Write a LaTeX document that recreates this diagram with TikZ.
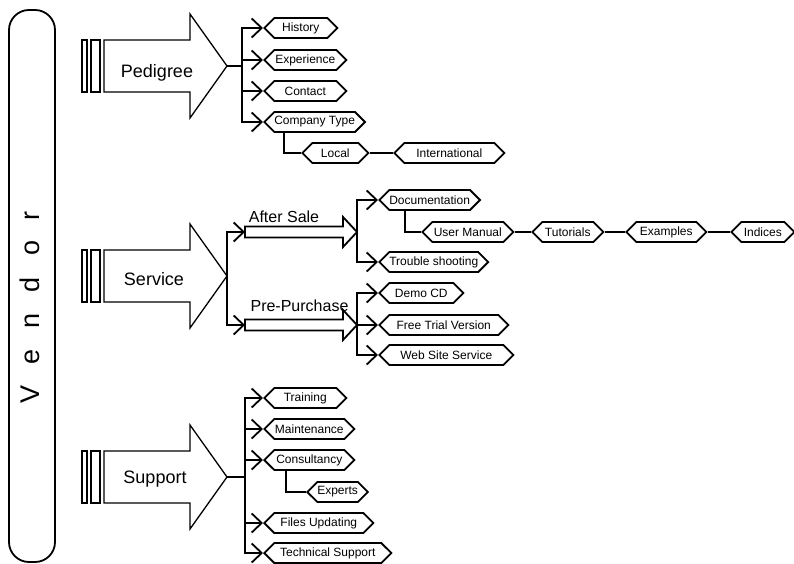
\documentclass[tikz,border=0pt]{standalone}
\usepackage{fontspec}
\setmainfont{Liberation Sans}
\usetikzlibrary{arrows.meta, shapes.symbols}

\begin{document}
\begin{tikzpicture}[x=1pt, y=-1pt,
    link/.style={line width=1.8pt},
    arr/.style={link, -{Straight Barb[length=10pt, width=19pt]}},
    hex/.style={draw, line width=1.8pt, shape=signal, signal to=east and west,
      signal pointer angle=90, minimum height=20pt, inner xsep=0pt, inner ysep=0pt,
      anchor=west, font=\fontsize{12}{12}\selectfont}]
    \useasboundingbox (0,0) rectangle (794,564);

    % vendor column
    \draw[line width=1.8pt, rounded corners=20pt] (9,10) rectangle (55,562);
    \node[rotate=90, font=\fontsize{27}{27}\selectfont] (vendor) at (30,307) {\spaceskip=21pt V e n d o r};

    % the three big arrows
    \foreach \nm/\c/\txt/\bx/\by in {ped/66/Pedigree/157/78, srv/276/Service/154/285, sup/477/Support/155/483} {
      \draw[line width=1.2pt] (82,\c-26) rectangle (87,\c+26) (91,\c-26) rectangle (100,\c+26);
      \draw[line width=1.3pt] (104,\c-26) -- (190,\c-26) -- (190,\c-52) -- (227,\c)
        -- (190,\c+52) -- (190,\c+26) -- (104,\c+26) -- cycle;
      \coordinate (\nm-tip) at (227,\c);
      \node[anchor=base, font=\fontsize{18}{18}\selectfont] (\nm) at (\bx,\by) {\txt};
    }

    % Pedigree
    \coordinate (ped-fork) at (242,66);
    \node[hex, minimum width=73pt] (hist) at (263,28) {History};
    \node[hex, minimum width=82pt] (expr) at (263,60) {Experience};
    \node[hex, minimum width=82pt] (cont) at (263,91) {Contact};
    \node[hex, minimum width=100pt] (ctype) at (263,122) {Company Type};
    \node[hex, minimum width=66pt] (local) at (301,153) {Local};
    \node[hex, minimum width=110pt] (intl) at (393,153) {International};
    \draw[link] (ped-tip) -- (ped-fork);
    \foreach \ch in {hist, expr, cont, ctype}
      \draw[arr] (ped-fork) |- (\ch.west);
    \draw[link] ([xshift=-31pt]ctype.south) |- (local.west);
    \draw[link] (local.east) -- (intl.west);

    % Service
    \foreach \nm/\c in {as/232, pp/325} {
      \draw[line width=1.8pt] (245,\c-5.5) -- (343,\c-5.5) -- (343,\c-15) -- (357,\c)
        -- (343,\c+15) -- (343,\c+5.5) -- (245,\c+5.5) -- cycle;
      \coordinate (\nm-tail) at (245,\c);
      \coordinate (\nm-head) at (357,\c);
    }
    \node[anchor=base, font=\fontsize{16}{16}\selectfont] (as) at (284,222) {After Sale};
    \node[anchor=base, font=\fontsize{16}{16}\selectfont] (pp) at (299.5,311) {Pre-Purchase};
    \draw[arr] (srv-tip) |- (as-tail);
    \draw[arr] (srv-tip) |- (pp-tail);

    \node[hex, minimum width=99pt] (doc) at (378,200) {Documentation};
    \node[hex, minimum width=91pt] (um) at (421,232) {User Manual};
    \node[hex, minimum width=71pt] (tut) at (531,232) {Tutorials};
    \node[hex, minimum width=80pt] (exm) at (625,232) {Examples};
    \node[hex, minimum width=63pt] (idx) at (730,232) {Indices};
    \node[hex, minimum width=107pt] (trbl) at (378,262) {Trouble shooting};
    \foreach \ch in {doc, trbl}
      \draw[arr] (as-head) |- (\ch.west);
    \draw[link] ([xshift=-25pt]doc.south) |- (um.west);
    \draw[link] (um.east) -- (tut.west) (tut.east) -- (exm.west) (exm.east) -- (idx.west);

    \node[hex, minimum width=84pt] (demo) at (378,293) {Demo CD};
    \node[hex, minimum width=129pt] (free) at (378,325) {Free Trial Version};
    \node[hex, minimum width=134pt] (web) at (378,355) {Web Site Service};
    \foreach \ch in {demo, free, web}
      \draw[arr] (pp-head) |- (\ch.west);

    % Support
    \coordinate (sup-fork) at (245,477);
    \node[hex, minimum width=82pt] (train) at (263,398) {Training};
    \node[hex, minimum width=90pt] (mnt) at (263,429) {Maintenance};
    \node[hex, minimum width=90pt] (cons) at (263,460) {Consultancy};
    \node[hex, minimum width=58pt] (expt) at (306,492) {Experts};
    \node[hex, minimum width=109pt] (files) at (263,523) {Files Updating};
    \node[hex, minimum width=127pt] (tech) at (263,553) {Technical Support};
    \draw[link] (sup-tip) -- (sup-fork);
    \foreach \ch in {train, mnt, cons, files, tech}
      \draw[arr] (sup-fork) |- (\ch.west);
    \draw[link] ([xshift=-23pt]cons.south) |- (expt.west);
\end{tikzpicture}
\end{document}
